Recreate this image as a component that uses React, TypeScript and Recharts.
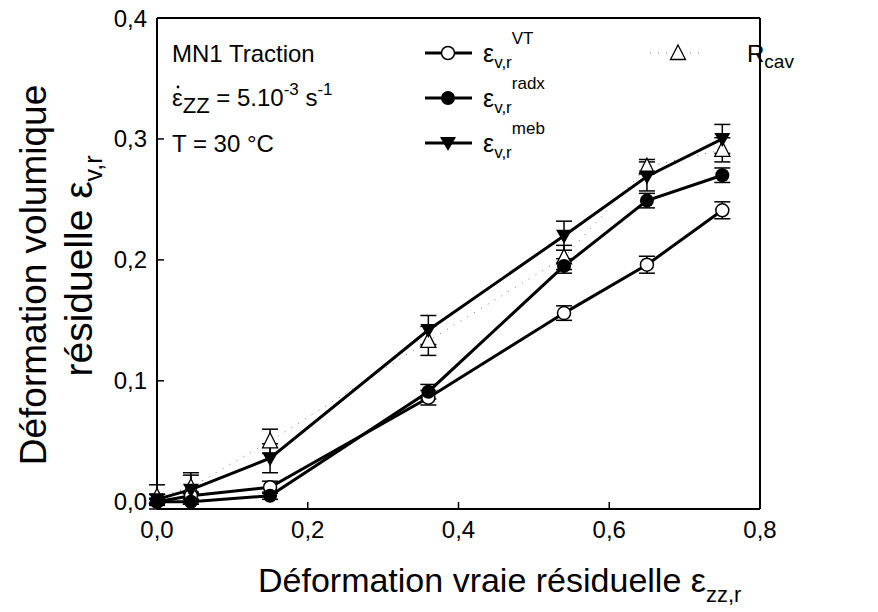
import React from 'react';
import { LineChart, Line, XAxis, YAxis, ErrorBar } from 'recharts';

// true residual strain (x)
const strain = [0, 0.045, 0.15, 0.36, 0.54, 0.65, 0.75];

// residual volume strain, per method
const evVT = [0.0, 0.005, 0.012, 0.086, 0.156, 0.196, 0.241];
const evVTErr = [0.003, 0.003, 0.005, 0.006, 0.006, 0.007, 0.007];
const evRadx = [0.0, 0.0, 0.005, 0.091, 0.195, 0.249, 0.27];
const evRadxErr = [0.002, 0.002, 0.003, 0.006, 0.006, 0.006, 0.006];
const evMeb = [0.002, 0.01, 0.036, 0.142, 0.22, 0.269, 0.3];
const evMebErr = [0.004, 0.012, 0.012, 0.012, 0.012, 0.012, 0.012];
const rCav = [0.004, 0.012, 0.05, 0.133, 0.202, 0.277, 0.291];
const rCavErr = [0.01, 0.012, 0.01, 0.012, 0.01, 0.006, 0.01];

const xTicks = [0, 0.2, 0.4, 0.6, 0.8];
const yTicks = [0, 0.1, 0.2, 0.3, 0.4];

const rows = strain.map((x, i) => ({
  x,
  vt: evVT[i], vtErr: evVTErr[i],
  radx: evRadx[i], radxErr: evRadxErr[i],
  meb: evMeb[i], mebErr: evMebErr[i],
  rcav: rCav[i], rcavErr: rCavErr[i],
}));

const W = 878;
const H = 612;
const FONT = '"Liberation Sans", Arial, sans-serif';
const fmt = (v: number) => v.toFixed(1).replace('.', ',');

const openCircle = (p: any) => (
  <circle key={`vt-${p.index}`} cx={p.cx} cy={p.cy} r={6.5} fill="#fff" stroke="#000" strokeWidth={1.5} />
);
const fullCircle = (p: any) => (
  <circle key={`rx-${p.index}`} cx={p.cx} cy={p.cy} r={7} fill="#000" />
);
const downTri = (p: any) => (
  <path key={`mb-${p.index}`} d={`M${p.cx - 8},${p.cy - 6} L${p.cx + 8},${p.cy - 6} L${p.cx},${p.cy + 8} Z`} fill="#000" />
);
const upTri = (p: any) => (
  <path key={`rc-${p.index}`} d={`M${p.cx},${p.cy - 8.5} L${p.cx + 7.5},${p.cy + 6.5} L${p.cx - 7.5},${p.cy + 6.5} Z`} fill="#fff" stroke="#000" strokeWidth={1.3} />
);

function Eps({ x, y, sup }: { x: number; y: number; sup: string }) {
  return (
    <text x={x} y={y} fontSize={25} fontFamily={FONT}>
      ε<tspan fontSize={17} dy={6}>v,r</tspan>
      <tspan fontSize={17} dy={-24}>{sup}</tspan>
    </text>
  );
}

function Overlay() {
  const ax = (y: number, marker: React.ReactNode) => (
    <g>
      <line x1={425} x2={472} y1={y} y2={y} stroke="#000" strokeWidth={3} />
      {marker}
    </g>
  );
  return (
    <svg width={W} height={H} style={{ position: 'absolute', left: 0, top: 0, pointerEvents: 'none' }}>
      {/* axis titles */}
      <text x={258} y={592} fontSize={34} fontFamily={FONT}>
        Déformation vraie résiduelle ε<tspan fontSize={22} dy={10}>zz,r</tspan>
      </text>
      <g transform="translate(46,275) rotate(-90)">
        <text x={0} y={0} fontSize={37} fontFamily={FONT} textAnchor="middle">Déformation volumique</text>
      </g>
      <g transform="translate(92,266) rotate(-90)">
        <text x={0} y={0} fontSize={39} fontFamily={FONT} textAnchor="middle">
          résiduelle ε<tspan fontSize={25} dy={10}>v,r</tspan>
        </text>
      </g>

      {/* conditions */}
      <text x={172} y={62} fontSize={24} fontFamily={FONT}>MN1 Traction</text>
      <circle cx={178} cy={87} r={1.4} fill="#000" />
      <text x={172} y={106} fontSize={24} fontFamily={FONT}>
        ε<tspan fontSize={22} dy={7}>ZZ</tspan>
        <tspan dy={-7}> = 5.10</tspan>
        <tspan fontSize={17} dy={-11}>-3</tspan>
        <tspan dy={11}> s</tspan>
        <tspan fontSize={17} dy={-11}>-1</tspan>
      </text>
      <text x={172} y={152} fontSize={24} fontFamily={FONT}>T = 30 °C</text>

      {/* legend */}
      {ax(53, <circle cx={448} cy={53} r={6.5} fill="#fff" stroke="#000" strokeWidth={1.5} />)}
      <Eps x={483} y={62} sup="VT" />
      {ax(98, <circle cx={448} cy={98} r={7} fill="#000" />)}
      <Eps x={483} y={107} sup="radx" />
      {ax(143, <path d={`M440,137 L456,137 L448,151 Z`} fill="#000" />)}
      <Eps x={483} y={152} sup="meb" />
      <line x1={650} x2={706} y1={53} y2={53} stroke="#777" strokeWidth={1} strokeDasharray="1 7" />
      <path d="M678,45 L685.5,59.5 L670.5,59.5 Z" fill="#fff" stroke="#000" strokeWidth={1.3} />
      <text x={747} y={62} fontSize={24} fontFamily={FONT}>
        R<tspan fontSize={19} dy={6}>cav</tspan>
      </text>
    </svg>
  );
}

export default function App() {
  const tickStyle = { fill: '#000', fontSize: 24, fontFamily: FONT };
  const axisLine = { stroke: '#000', strokeWidth: 2 };
  const tickLine = { stroke: '#000', strokeWidth: 1.5 };
  return (
    <div style={{ position: 'absolute', left: 0, top: 0, width: W, height: H, background: '#fff' }}>
      <LineChart width={W} height={H} data={rows} margin={{ top: 17, right: 117, bottom: 102, left: 156 }}>
        <XAxis dataKey="x" type="number" domain={[0, 0.8]} ticks={xTicks} tickFormatter={fmt}
          height={1} tickSize={-7} tickMargin={19} tick={tickStyle} axisLine={axisLine} tickLine={tickLine} />
        <XAxis xAxisId="top" orientation="top" dataKey="x" type="number" domain={[0, 0.8]} ticks={xTicks}
          height={1} tickSize={-7} tick={false} axisLine={axisLine} tickLine={tickLine} />
        <YAxis type="number" domain={[0, 0.4]} ticks={yTicks} tickFormatter={fmt}
          width={1} tickSize={-7} tickMargin={17} tick={tickStyle} axisLine={axisLine} tickLine={tickLine} />
        <YAxis yAxisId="right" orientation="right" type="number" domain={[0, 0.4]} ticks={yTicks}
          width={1} tickSize={-7} tick={false} axisLine={axisLine} tickLine={tickLine} />

        <Line dataKey="rcav" stroke="#777" strokeWidth={1} strokeDasharray="1 7" dot={upTri} activeDot={false} isAnimationActive={false}>
          <ErrorBar dataKey="rcavErr" direction="y" width={8} stroke="#000" strokeWidth={1.5} />
        </Line>
        <Line dataKey="vt" stroke="#000" strokeWidth={3} dot={openCircle} activeDot={false} isAnimationActive={false}>
          <ErrorBar dataKey="vtErr" direction="y" width={8} stroke="#000" strokeWidth={1.5} />
        </Line>
        <Line dataKey="radx" stroke="#000" strokeWidth={3} dot={fullCircle} activeDot={false} isAnimationActive={false}>
          <ErrorBar dataKey="radxErr" direction="y" width={8} stroke="#000" strokeWidth={1.5} />
        </Line>
        <Line dataKey="meb" stroke="#000" strokeWidth={3} dot={downTri} activeDot={false} isAnimationActive={false}>
          <ErrorBar dataKey="mebErr" direction="y" width={8} stroke="#000" strokeWidth={1.5} />
        </Line>
      </LineChart>
      <Overlay />
    </div>
  );
}
